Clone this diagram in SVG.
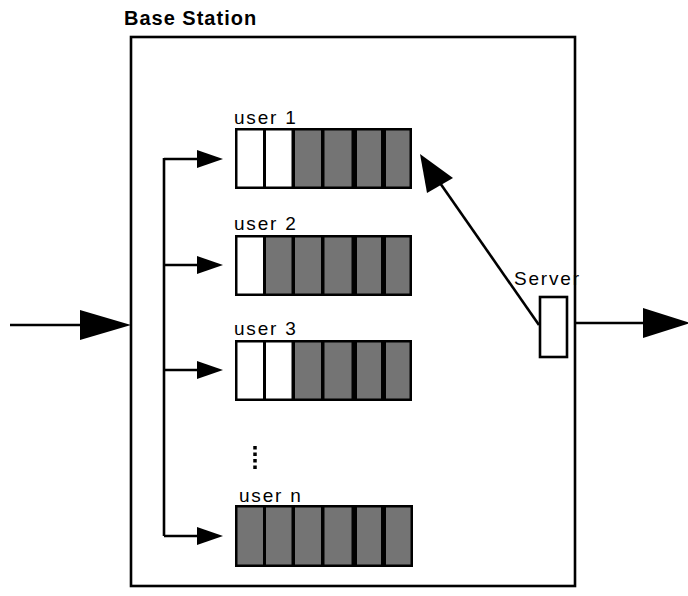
<svg xmlns="http://www.w3.org/2000/svg" width="688" height="596" viewBox="0 0 688 596">
<style>
.ln{stroke:#000;stroke-width:2.6;fill:none}
.lbl{font-family:"Liberation Sans",Arial,sans-serif;font-size:19px;fill:#000;letter-spacing:1.8px}
.title{font-family:"Liberation Sans",Arial,sans-serif;font-size:20px;font-weight:bold;fill:#000;letter-spacing:1px}
.qb{fill:#000}
.w{fill:#fff}
.g{fill:#747474}
.ah{fill:#000}
</style>
<rect x="0" y="0" width="688" height="596" fill="#fff"/>
<g id="base-station">
<rect class="ln" x="131" y="37" width="444" height="549"/>
<text class="title" x="124" y="25">Base Station</text>
</g>
<g id="queue-user1">
<text class="lbl" x="234" y="124">user 1</text>
<rect class="qb" x="235" y="128" width="177" height="61"/>
<rect class="w" x="237.5" y="130.5" width="25.5" height="56"/>
<rect class="w" x="266" y="130.5" width="25.5" height="56"/>
<rect class="g" x="295" y="130.5" width="26" height="56"/>
<rect class="g" x="324.5" y="130.5" width="27" height="56"/>
<rect class="g" x="357" y="130.5" width="24" height="56"/>
<rect class="g" x="386" y="130.5" width="23.5" height="56"/>
</g>
<g id="queue-user2">
<text class="lbl" x="234" y="230">user 2</text>
<rect class="qb" x="235" y="235" width="177" height="61"/>
<rect class="w" x="237.5" y="237.5" width="25.5" height="56"/>
<rect class="g" x="266" y="237.5" width="25.5" height="56"/>
<rect class="g" x="295" y="237.5" width="26" height="56"/>
<rect class="g" x="324.5" y="237.5" width="27" height="56"/>
<rect class="g" x="357" y="237.5" width="24" height="56"/>
<rect class="g" x="386" y="237.5" width="23.5" height="56"/>
</g>
<g id="queue-user3">
<text class="lbl" x="234" y="335">user 3</text>
<rect class="qb" x="235" y="340" width="177" height="61"/>
<rect class="w" x="237.5" y="342.5" width="25.5" height="56"/>
<rect class="w" x="266" y="342.5" width="25.5" height="56"/>
<rect class="g" x="295" y="342.5" width="26" height="56"/>
<rect class="g" x="324.5" y="342.5" width="27" height="56"/>
<rect class="g" x="357" y="342.5" width="24" height="56"/>
<rect class="g" x="386" y="342.5" width="23.5" height="56"/>
</g>
<g id="ellipsis">
<line x1="255" y1="446" x2="255" y2="471" stroke="#000" stroke-width="3.5" stroke-dasharray="3.5,3"/>
</g>
<g id="queue-usern">
<text class="lbl" x="239" y="502">user n</text>
<rect class="qb" x="235" y="505" width="178" height="62"/>
<rect class="g" x="237.5" y="507.5" width="25.5" height="57"/>
<rect class="g" x="266" y="507.5" width="25.5" height="57"/>
<rect class="g" x="295" y="507.5" width="26" height="57"/>
<rect class="g" x="324.5" y="507.5" width="27" height="57"/>
<rect class="g" x="357" y="507.5" width="24" height="57"/>
<rect class="g" x="386" y="507.5" width="24.5" height="57"/>
</g>
<g id="server">
<text class="lbl" x="514" y="285">Server</text>
<rect class="ln" x="540" y="297" width="27" height="60" fill="#fff"/>
</g>
<g id="connectors">
<line class="ln" x1="10" y1="325" x2="90" y2="325"/>
<polygon class="ah" points="80,310 131,325 80,340"/>
<line class="ln" x1="164" y1="158" x2="164" y2="536"/>
<line class="ln" x1="164" y1="159" x2="200" y2="159"/>
<polygon class="ah" points="197,150 223,159 197,168"/>
<line class="ln" x1="164" y1="265" x2="200" y2="265"/>
<polygon class="ah" points="197,256 223,265 197,274"/>
<line class="ln" x1="164" y1="370" x2="200" y2="370"/>
<polygon class="ah" points="197,361 223,370 197,379"/>
<line class="ln" x1="164" y1="536" x2="200" y2="536"/>
<polygon class="ah" points="197,527 223,536 197,545"/>
<line class="ln" x1="539" y1="325" x2="440" y2="183"/>
<polygon class="ah" points="420,154 453,178 427,193"/>
<line class="ln" x1="575" y1="323" x2="650" y2="323"/>
<polygon class="ah" points="643,308 690,323 643,338"/>
</g>
</svg>
